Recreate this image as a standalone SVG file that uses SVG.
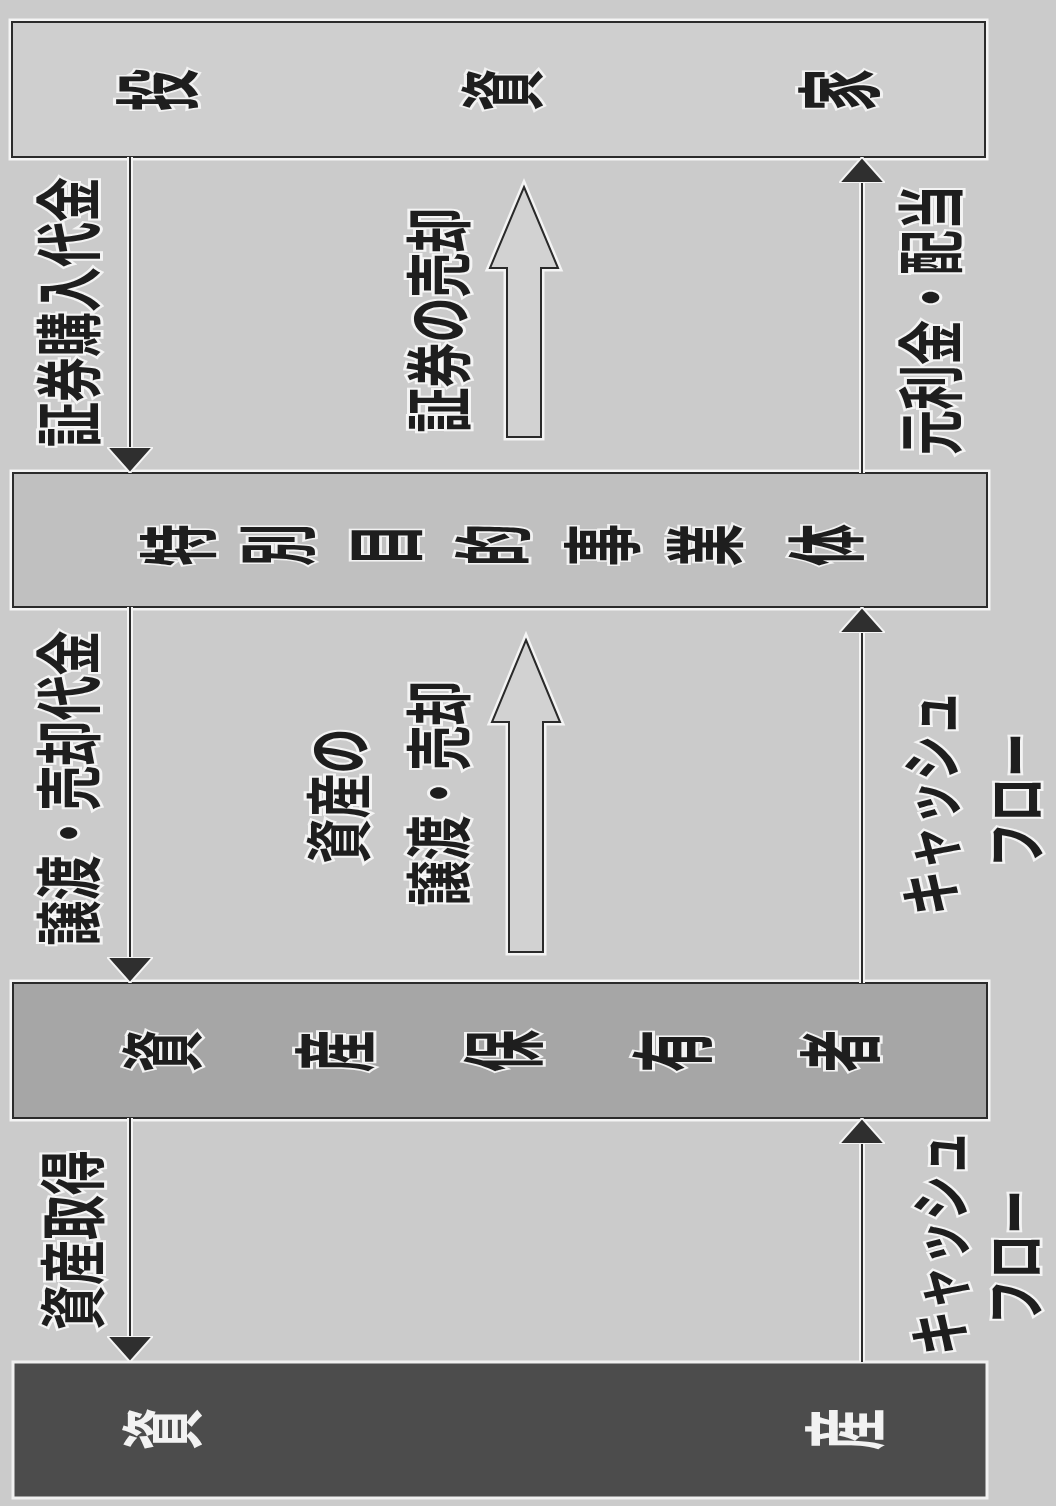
<svg xmlns="http://www.w3.org/2000/svg" width="1056" height="1506" viewBox="0 0 1056 1506">
<defs>
<style>
.bg{fill:#cbcbcb}
.box{stroke:#2b2b2b;stroke-width:2}
.boxhalo{fill:none;stroke:#f4f4f4;stroke-width:7}
.bx{font-family:"Noto Sans CJK JP","Noto Sans CJK SC",sans-serif;font-weight:bold;font-size:42px;fill:#1e1e1e;stroke:#f2f2f2;stroke-width:3;paint-order:stroke;text-anchor:middle;dominant-baseline:central}
.bxw{font-family:"Noto Sans CJK JP","Noto Sans CJK SC",sans-serif;font-weight:bold;font-size:42px;fill:#f2f2f2;text-anchor:middle;dominant-baseline:central}
.lbl{font-family:"Noto Sans CJK JP","Noto Sans CJK SC",sans-serif;font-weight:bold;font-size:45px;fill:#1e1e1e;stroke:#f4f4f4;stroke-width:4;paint-order:stroke;text-anchor:middle;dominant-baseline:central}
.halo{stroke:#f4f4f4;stroke-width:6;fill:none}
.ln{stroke:#2a2a2a;stroke-width:2;fill:none}
.block{fill:#d2d2d2;stroke:#2a2a2a;stroke-width:2;stroke-linejoin:miter}
.blockhalo{fill:none;stroke:#f4f4f4;stroke-width:7;stroke-linejoin:miter}
</style>
<marker id="ah" viewBox="0 0 26 46" refX="26" refY="23" markerWidth="26" markerHeight="46" markerUnits="userSpaceOnUse" orient="auto">
<path d="M0,0 L26,23 L0,46 Z" fill="#2f2f2f" stroke="#f4f4f4" stroke-width="2"/>
</marker>
</defs>
<rect class="bg" x="0" y="0" width="1056" height="1506"/>

<g id="investor">
<rect class="boxhalo" x="12" y="22" width="973" height="135"/>
<rect class="box" x="12" y="22" width="973" height="135" fill="#cfcfcf"/>
<text class="bx" transform="translate(153,90) rotate(-90) scale(1,2.05)">投</text>
<text class="bx" transform="translate(498,90) rotate(-90) scale(1,2.05)">資</text>
<text class="bx" transform="translate(835,90) rotate(-90) scale(1,2.05)">家</text>
</g>

<g id="spv">
<rect class="boxhalo" x="13" y="473" width="974" height="134"/>
<rect class="box" x="13" y="473" width="974" height="134" fill="#c0c0c0"/>
<text class="bx" transform="translate(173,545) rotate(-90) scale(1,1.9)">特</text>
<text class="bx" transform="translate(272,545) rotate(-90) scale(1,1.9)">別</text>
<text class="bx" transform="translate(380,545) rotate(-90) scale(1,1.9)">目</text>
<text class="bx" transform="translate(488,545) rotate(-90) scale(1,1.9)">的</text>
<text class="bx" transform="translate(597,545) rotate(-90) scale(1,1.9)">事</text>
<text class="bx" transform="translate(700,545) rotate(-90) scale(1,1.9)">業</text>
<text class="bx" transform="translate(821,545) rotate(-90) scale(1,1.9)">体</text>
</g>

<g id="holder">
<rect class="boxhalo" x="13" y="983" width="974" height="135"/>
<rect class="box" x="13" y="983" width="974" height="135" fill="#a6a6a6"/>
<text class="bx" transform="translate(157,1051) rotate(-90) scale(1,2)">資</text>
<text class="bx" transform="translate(330,1051) rotate(-90) scale(1,2)">産</text>
<text class="bx" transform="translate(498,1051) rotate(-90) scale(1,2)">保</text>
<text class="bx" transform="translate(667,1051) rotate(-90) scale(1,2)">有</text>
<text class="bx" transform="translate(835,1051) rotate(-90) scale(1,2)">者</text>
</g>

<g id="asset">
<rect x="13" y="1362" width="974" height="136" fill="#4c4c4c" stroke="#f0f0f0" stroke-width="3"/>
<text class="bxw" transform="translate(157,1429) rotate(-90) scale(1,2)">資</text>
<text class="bxw" transform="translate(840,1429) rotate(-90) scale(1,2)">産</text>
</g>

<g id="connectors">
<line class="halo" x1="130" y1="157" x2="130" y2="450"/>
<line class="halo" x1="130" y1="607" x2="130" y2="960"/>
<line class="halo" x1="130" y1="1118" x2="130" y2="1340"/>
<line class="halo" x1="862" y1="1362" x2="862" y2="1140"/>
<line class="halo" x1="862" y1="983" x2="862" y2="630"/>
<line class="halo" x1="862" y1="473" x2="862" y2="180"/>
<line class="ln" x1="130" y1="157" x2="130" y2="473" marker-end="url(#ah)"/>
<line class="ln" x1="130" y1="607" x2="130" y2="983" marker-end="url(#ah)"/>
<line class="ln" x1="130" y1="1118" x2="130" y2="1362" marker-end="url(#ah)"/>
<line class="ln" x1="862" y1="1362" x2="862" y2="1118" marker-end="url(#ah)"/>
<line class="ln" x1="862" y1="983" x2="862" y2="607" marker-end="url(#ah)"/>
<line class="ln" x1="862" y1="473" x2="862" y2="157" marker-end="url(#ah)"/>
</g>

<g id="block-arrow-securities">
<polygon class="blockhalo" points="524,187 558,268 541,268 541,437 507,437 507,268 490,268"/>
<polygon class="block" points="524,187 558,268 541,268 541,437 507,437 507,268 490,268"/>
</g>
<g id="block-arrow-assets">
<polygon class="blockhalo" points="526,640 560,722 543,722 543,952 509,952 509,722 492,722"/>
<polygon class="block" points="526,640 560,722 543,722 543,952 509,952 509,722 492,722"/>
</g>

<g id="labels">
<text class="lbl" transform="translate(65,312) rotate(-90) scale(1,1.5)">証券購入代金</text>
<text class="lbl" transform="translate(65,788) rotate(-90) scale(1,1.5)">譲渡・売却代金</text>
<text class="lbl" transform="translate(69,1240) rotate(-90) scale(1,1.5)">資産取得</text>
<text class="lbl" transform="translate(435,320) rotate(-90) scale(1,1.5)">証券の売却</text>
<text class="lbl" transform="translate(335,796) rotate(-90) scale(1,1.5)">資産の</text>
<text class="lbl" transform="translate(435,793) rotate(-90) scale(1,1.5)">譲渡・売却</text>
<text class="lbl" transform="translate(927,320) rotate(-90) scale(1,1.5)">元利金・配当</text>
<text class="lbl" transform="translate(927,803) rotate(-90) scale(1,1.4)">キャッシュ</text>
<text class="lbl" transform="translate(1012,800) rotate(-90) scale(1,1.4)">フロー</text>
<text class="lbl" transform="translate(936,1243) rotate(-90) scale(1,1.4)">キャッシュ</text>
<text class="lbl" transform="translate(1011,1257) rotate(-90) scale(1,1.4)">フロー</text>
</g>
</svg>
